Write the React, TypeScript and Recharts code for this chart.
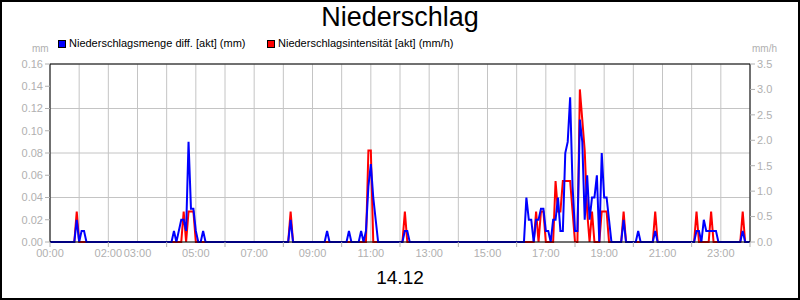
// App.tsx — Niederschlag 14.12: Menge (mm, links) + Intensität (mm/h, rechts), Tagesverlauf.

import { CartesianGrid, Line, LineChart, ReferenceLine, XAxis, YAxis } from "recharts";

const FONT = "'Liberation Sans', Arial, sans-serif";
const GRAY = "#b0b0b0";
const GRID = "#c4c4c4";

// Minuten seit 00:00
const times = [
  0, 50, 55, 60, 65, 70, 75,
  250, 255, 260, 265, 270, 275, 280, 285, 290, 295, 300, 305, 310, 315, 320,
  490, 495, 500,
  565, 570, 575,
  610, 615, 620,
  635, 640, 645, 650, 655, 660, 665, 670, 675,
  725, 730, 735, 740,
  975, 980, 985, 990, 995, 1000, 1005, 1010, 1015, 1020, 1025, 1030, 1035, 1040, 1045,
  1050, 1055, 1060, 1065, 1070, 1075, 1080, 1085, 1090, 1095, 1100, 1105, 1110, 1115,
  1120, 1125, 1130, 1135, 1140, 1145, 1150, 1155,
  1175, 1180, 1185,
  1205, 1210, 1215,
  1240, 1245, 1250,
  1325, 1330, 1335, 1340, 1345, 1350, 1355, 1360, 1365, 1370, 1375,
  1420, 1425, 1430, 1440,
];

// Niederschlagsmenge diff. [akt] (mm)
const mengeMm = [
  0, 0, 0.02, 0, 0.01, 0.01, 0,
  0, 0.01, 0, 0.01, 0.02, 0.02, 0.01, 0.09, 0.03, 0.03, 0.01, 0, 0, 0.01, 0,
  0, 0.02, 0,
  0, 0.01, 0,
  0, 0.01, 0,
  0, 0.01, 0, 0.01, 0.05, 0.07, 0.04, 0.02, 0,
  0, 0.01, 0.01, 0,
  0, 0.04, 0.02, 0.02, 0, 0.02, 0.02, 0.03, 0.03, 0.01, 0.01, 0, 0.02, 0.02, 0.04,
  0.01, 0.01, 0.08, 0.09, 0.13, 0.05, 0.01, 0.01, 0.11, 0.09, 0.02, 0.06, 0.02, 0.04,
  0.04, 0.06, 0, 0.08, 0.04, 0.04, 0.02, 0,
  0, 0.02, 0,
  0, 0.01, 0,
  0, 0.01, 0,
  0, 0.01, 0.01, 0, 0.02, 0.01, 0.01, 0.01, 0.01, 0.01, 0,
  0, 0.01, 0, 0,
];

// Niederschlagsintensität [akt] (mm/h)
const intensitaetMmh = [
  0, 0, 0.6, 0, 0, 0, 0,
  0, 0, 0, 0, 0, 0.6, 0, 0.6, 0.6, 0.6, 0, 0, 0, 0, 0,
  0, 0.6, 0,
  0, 0, 0,
  0, 0, 0,
  0, 0, 0, 0, 1.8, 1.8, 0, 0, 0,
  0, 0.6, 0, 0,
  0, 0, 0, 0, 0, 0.6, 0, 0.6, 0.6, 0, 0, 0, 0, 1.2, 0.6,
  0.6, 1.2, 1.2, 1.2, 1.2, 0.6, 0, 0, 3.0, 2.4, 1.8, 0.6, 0, 0.6,
  0, 0, 0, 0.6, 0.6, 0.6, 0, 0,
  0, 0.6, 0,
  0, 0, 0,
  0, 0.6, 0,
  0, 0.6, 0, 0, 0, 0, 0, 0.6, 0, 0, 0,
  0, 0.6, 0, 0,
];

const hourTicks = [0, 60, 120, 180, 240, 300, 360, 420, 480, 540, 600, 660, 720, 780, 840, 900, 960, 1020, 1080, 1140, 1200, 1260, 1320, 1380, 1440];
const labelledHours = [0, 2, 3, 5, 7, 9, 11, 13, 15, 17, 19, 21, 23];
const mmTicks = [0, 0.02, 0.04, 0.06, 0.08, 0.1, 0.12, 0.14, 0.16];
const mmhTicks = [0, 0.5, 1, 1.5, 2, 2.5, 3, 3.5];

const data = times.map((t, i) => ({ t, menge: mengeMm[i], intens: intensitaetMmh[i] }));

const tickText = { fontFamily: FONT, fontSize: 11, fill: GRAY };

function HourTick(props: any) {
  const { x, y, payload } = props;
  const h = payload.value / 60;
  return (
    <g>
      {h % 2 === 0 && <line x1={x} x2={x} y1={y} y2={y + 5} stroke={GRAY} />}
      {labelledHours.includes(h) && (
        <text x={x} y={y + 15} textAnchor="middle" style={tickText}>
          {String(h).padStart(2, "0")}:00
        </text>
      )}
    </g>
  );
}

const abs = (style: any) => ({ position: "absolute" as const, whiteSpace: "nowrap" as const, ...style });

export default function App() {
  return (
    <div style={{ position: "absolute", left: 0, top: 0, width: 800, height: 300, background: "#fff", fontFamily: FONT }}>
      <LineChart width={800} height={300} data={data} margin={{ top: 64, right: 0, bottom: 0, left: 0 }}>
        <CartesianGrid stroke={GRID} yAxisId="mm" />
        <XAxis
          dataKey="t"
          type="number"
          domain={[0, 1440]}
          ticks={hourTicks}
          interval={0}
          height={58}
          tickSize={0}
          tickMargin={0}
          tickLine={false}
          axisLine={{ stroke: "#000" }}
          tick={<HourTick />}
        />
        <YAxis
          yAxisId="mm"
          domain={[0, 0.16]}
          ticks={mmTicks}
          width={50}
          tickSize={5}
          tick={tickText}
          tickLine={{ stroke: GRAY }}
          axisLine={{ stroke: "#000" }}
          tickFormatter={(v: number) => v.toFixed(2)}
        />
        <YAxis
          yAxisId="mmh"
          orientation="right"
          domain={[0, 3.5]}
          ticks={mmhTicks}
          width={50}
          tickSize={5}
          tick={tickText}
          tickLine={{ stroke: GRAY }}
          axisLine={{ stroke: "#000" }}
          tickFormatter={(v: number) => v.toFixed(1)}
        />
        <ReferenceLine yAxisId="mm" y={0.16} stroke="#000" />
        <Line yAxisId="mmh" dataKey="intens" type="linear" stroke="#ff0000" strokeWidth={2} dot={false} isAnimationActive={false} />
        <Line yAxisId="mm" dataKey="menge" type="linear" stroke="#0000ff" strokeWidth={2} dot={false} isAnimationActive={false} />
      </LineChart>

      <div style={abs({ left: 0, top: 4, width: 800, textAlign: "center", fontSize: 27, lineHeight: "27px", color: "#000" })}>
        Niederschlag
      </div>

      <div style={abs({ left: 58, top: 40, width: 6, height: 6, background: "#0000ff", border: "1px solid #000" })} />
      <div style={abs({ left: 69, top: 37.7, fontSize: 11, lineHeight: "11px", color: "#000" })}>
        Niederschlagsmenge diff. [akt] (mm)
      </div>
      <div style={abs({ left: 267, top: 40, width: 6, height: 6, background: "#ff0000", border: "1px solid #000" })} />
      <div style={abs({ left: 278, top: 37.7, fontSize: 11, lineHeight: "11px", color: "#000" })}>
        Niederschlagsintensität [akt] (mm/h)
      </div>

      <div style={abs({ left: 32, top: 44, fontSize: 10, lineHeight: "10px", color: GRAY })}>mm</div>
      <div style={abs({ left: 752, top: 44, fontSize: 10, lineHeight: "10px", color: GRAY })}>mm/h</div>

      <div style={abs({ left: 0, top: 268, width: 800, textAlign: "center", fontSize: 19, lineHeight: "19px", color: "#000" })}>
        14.12
      </div>

      <div style={abs({ left: 0, top: 0, width: 800, height: 300, boxSizing: "border-box", border: "2px solid #000", pointerEvents: "none" })} />
    </div>
  );
}
